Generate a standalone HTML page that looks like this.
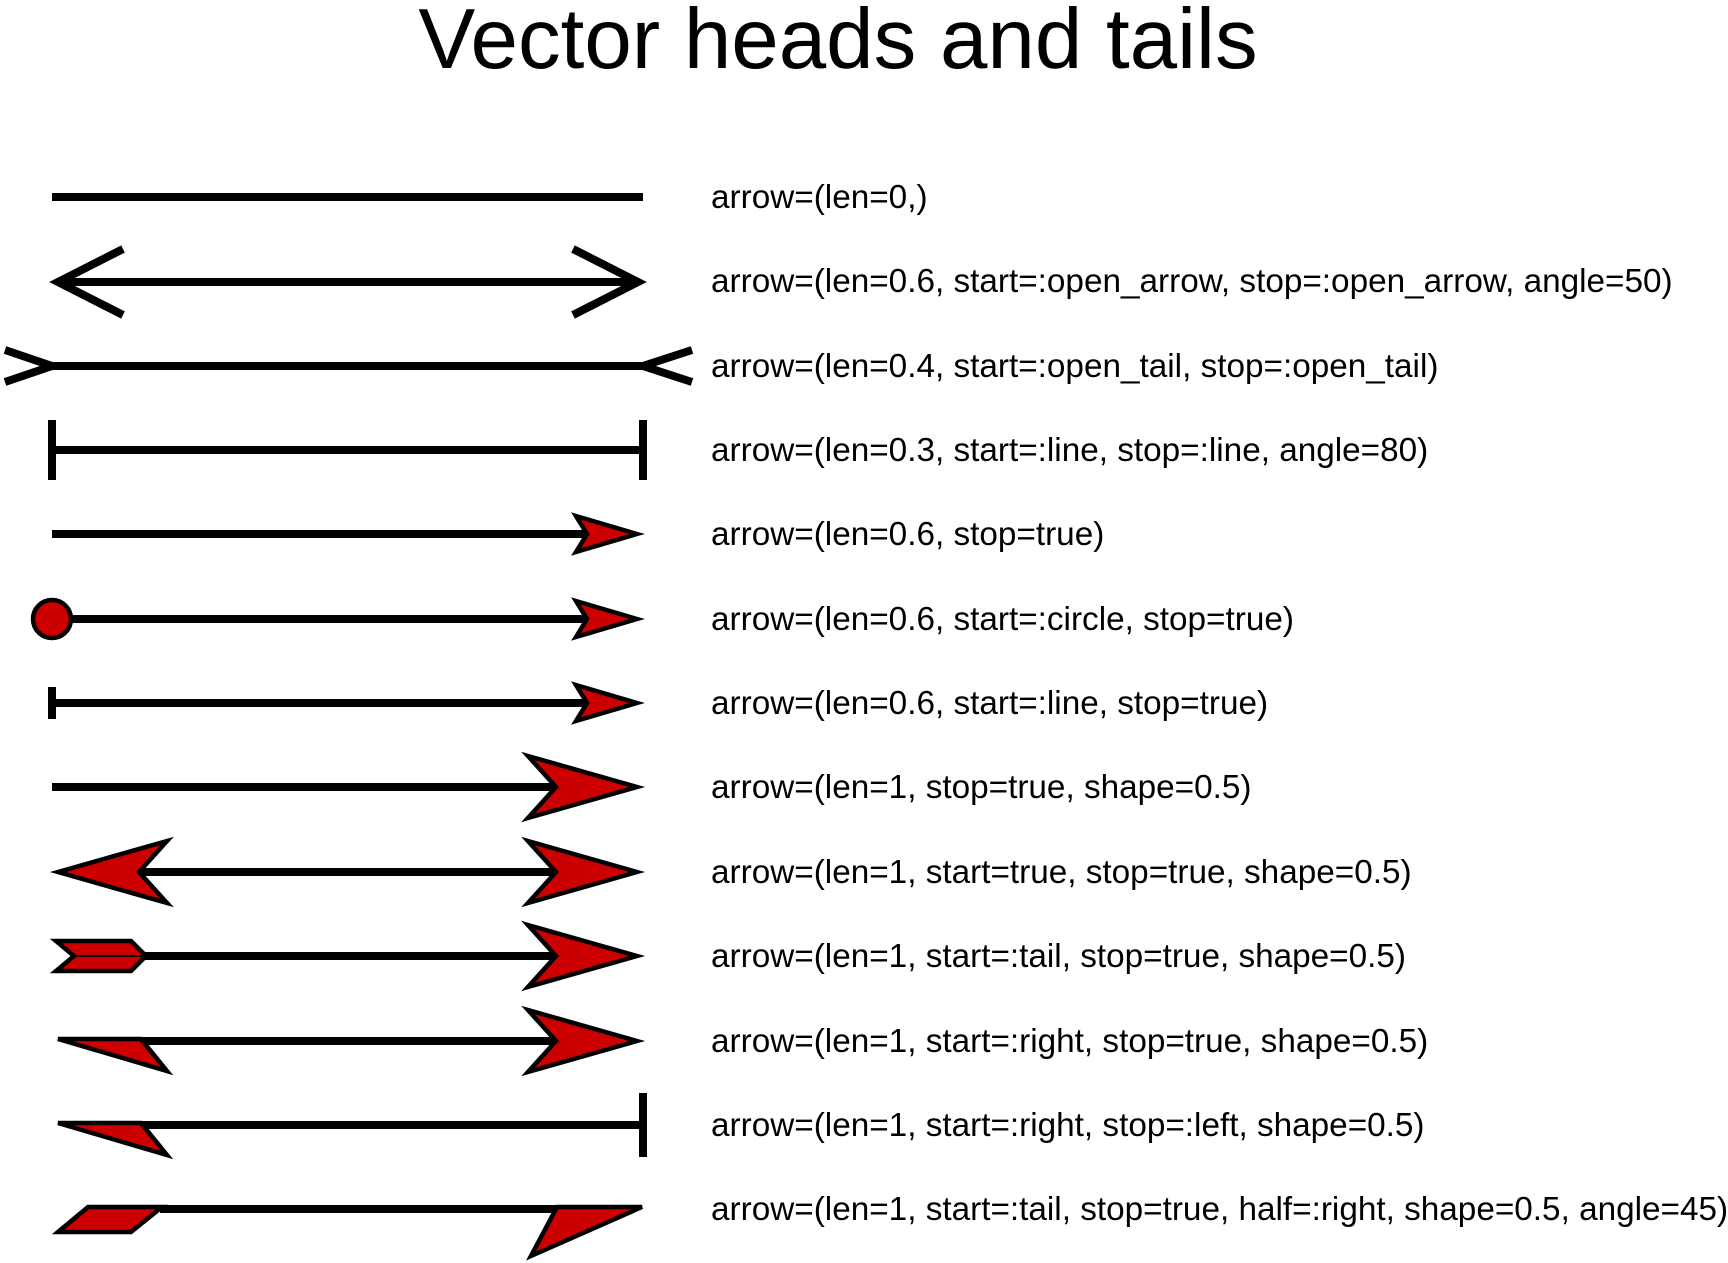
<!DOCTYPE html>
<html><head><meta charset="utf-8"><style>
html,body{margin:0;padding:0;background:#fff;}
svg{display:block;}
text{font-family:"Liberation Sans",Arial,sans-serif;fill:#000;}
</style></head><body>
<svg width="1728" height="1263" viewBox="0 0 1728 1263" xmlns="http://www.w3.org/2000/svg">
<text x="838" y="68" font-size="85.3" text-anchor="middle">Vector heads and tails</text>
<g font-size="33.3">
<text x="711" y="208">arrow=(len=0,)</text>
<text x="711" y="292">arrow=(len=0.6, start=:open_arrow, stop=:open_arrow, angle=50)</text>
<text x="711" y="377">arrow=(len=0.4, start=:open_tail, stop=:open_tail)</text>
<text x="711" y="461">arrow=(len=0.3, start=:line, stop=:line, angle=80)</text>
<text x="711" y="545">arrow=(len=0.6, stop=true)</text>
<text x="711" y="630">arrow=(len=0.6, start=:circle, stop=true)</text>
<text x="711" y="714">arrow=(len=0.6, start=:line, stop=true)</text>
<text x="711" y="798">arrow=(len=1, stop=true, shape=0.5)</text>
<text x="711" y="883">arrow=(len=1, start=true, stop=true, shape=0.5)</text>
<text x="711" y="967">arrow=(len=1, start=:tail, stop=true, shape=0.5)</text>
<text x="711" y="1052">arrow=(len=1, start=:right, stop=true, shape=0.5)</text>
<text x="711" y="1136">arrow=(len=1, start=:right, stop=:left, shape=0.5)</text>
<text x="711" y="1220">arrow=(len=1, start=:tail, stop=true, half=:right, shape=0.5, angle=45)</text>
</g>
<g stroke="#000" stroke-width="8" fill="none">
<line x1="52" y1="197" x2="643" y2="197"/>
<line x1="58" y1="282" x2="638" y2="282"/>
<polyline points="123,249 58,282 123,315"/>
<polyline points="573,249 638,282 573,315"/>
<line x1="52" y1="366" x2="643" y2="366"/>
<polyline points="5,350 52,366 5,382"/>
<polyline points="692,350 643,366 692,382"/>
<line x1="52" y1="450" x2="643" y2="450"/>
<line x1="52" y1="420" x2="52" y2="480"/>
<line x1="643" y1="420" x2="643" y2="480"/>
<line x1="52" y1="534" x2="586" y2="534"/>
<line x1="72" y1="619" x2="586" y2="619"/>
<line x1="52" y1="703" x2="586" y2="703"/>
<line x1="52" y1="687" x2="52" y2="719"/>
<line x1="52" y1="787" x2="558" y2="787"/>
<line x1="136" y1="872" x2="558" y2="872"/>
<line x1="140" y1="956" x2="558" y2="956"/>
<line x1="140" y1="1041" x2="558" y2="1041"/>
<line x1="140" y1="1125" x2="643" y2="1125"/>
<line x1="643" y1="1093" x2="643" y2="1157"/>
<line x1="160" y1="1209" x2="560" y2="1209"/>
</g>
<g fill="#cc0000" stroke="#000" stroke-width="4.5" stroke-linejoin="miter">
<polygon points="637,534 576,516 587,534 576,552"/>
<polygon points="637,619 576,601 587,619 576,637"/>
<polygon points="637,703 576,685 587,703 576,721"/>
<circle cx="52" cy="619" r="19"/>
<polygon points="637,787 528,756 556,787 528,818"/>
<polygon points="637,872 528,841 556,872 528,903"/>
<polygon points="58,872 167,841 139,872 167,903"/>
<polygon points="637,956 528,925 556,956 528,987"/>
<polygon points="637,1041 528,1010 556,1041 528,1072"/>
<polygon points="56,941 131,941 146,956 131,971 56,971 74,956"/>
<line x1="74" y1="956" x2="146" y2="956" stroke-width="2"/>
<polygon points="58,1039 141,1039 167,1071"/>
<polygon points="58,1123 141,1123 167,1155"/>
<polygon points="58,1232 88,1207 162,1207 131,1232"/>
<polygon points="642,1207 557,1207 531,1256"/>
</g>
</svg>
</body></html>
